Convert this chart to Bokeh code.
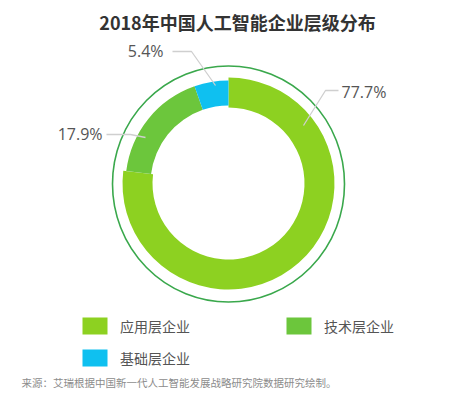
import numpy as np
from bokeh.plotting import figure
from bokeh.models import Range1d, ColumnDataSource
from bokeh.core.properties import value
from bokeh.embed import file_html
from bokeh.resources import INLINE

# ---- data ----
categories = ["应用层企业", "技术层企业", "基础层企业"]
shares = [77.7, 17.9, 5.4]
labels = ["77.7%", "17.9%", "5.4%"]
colors = ["#8dd121", "#6cc63c", "#0fc0f0"]
title = "2018年中国人工智能企业层级分布"
source_note = "来源：艾瑞根据中国新一代人工智能发展战略研究院数据研究绘制。"

W, H = 449, 394
p = figure(width=W, height=H, output_backend="svg", toolbar_location=None,
           x_range=Range1d(0, W), y_range=Range1d(0, H),
           min_border=0, outline_line_color=None, background_fill_color="white")
p.axis.visible = False
p.grid.visible = False

def Y(img_y):
    return 394 - img_y

cx, cy = 228, Y(183)
fracs = np.array(shares) / sum(shares)
ends = np.pi / 2 - 2 * np.pi * np.cumsum(fracs)
starts = np.concatenate([[np.pi / 2], ends[:-1]])
inner = [76, 78, 78]
outer = [106, 103, 103]

src = ColumnDataSource(dict(start=starts, end=ends, color=colors, inner=inner, outer=outer))
p.annular_wedge(x=cx, y=cy, inner_radius="inner", outer_radius="outer",
                start_angle="start", end_angle="end", direction="clock",
                fill_color="color", line_color=None, source=src)

# outer thin ring
p.ellipse(x=cx, y=Y(183.5), width=232, height=236, fill_color=None,
          line_color="#3aa84c", line_width=1.6)

# leader lines
lead_x = [[303, 325, 338], [145, 130, 106], [215, 191, 172]]
lead_y = [[Y(125), Y(90), Y(90)], [Y(137), Y(134), Y(134)], [Y(85), Y(51), Y(51)]]
p.multi_line(xs=lead_x, ys=lead_y, line_color="#cfcfcf", line_width=1.3)

# percentage labels
p.text(x=[341, 102, 163], y=[Y(91), Y(133), Y(50)], text=labels,
       text_align=["left", "right", "right"], text_baseline="middle",
       text_font=value("Open Sans"), text_font_size="16px", text_color="#555555")

# title
p.text(x=[237], y=[Y(21)], text=[title], text_align="center", text_baseline="middle",
       text_font=value("Noto Sans CJK SC"), text_font_style="bold",
       text_font_size="18px", text_color="#333333")

# legend
leg_x = [94.5, 298.5, 94.5]
leg_y = [Y(325.5), Y(325.5), Y(357.5)]
p.rect(x=leg_x, y=leg_y, width=25, height=17, fill_color=colors, line_color=None)
p.text(x=[x + 25 for x in leg_x], y=leg_y, text=categories, text_baseline="middle",
       text_font=value("Noto Sans CJK SC"), text_font_size="14px", text_color="#555555")

# source note
p.text(x=[21], y=[Y(382)], text=[source_note], text_baseline="middle",
       text_font=value("Noto Sans CJK SC"), text_font_size="10.5px", text_color="#8c8c8c")

open("out.html", "w").write(file_html(p, INLINE))
